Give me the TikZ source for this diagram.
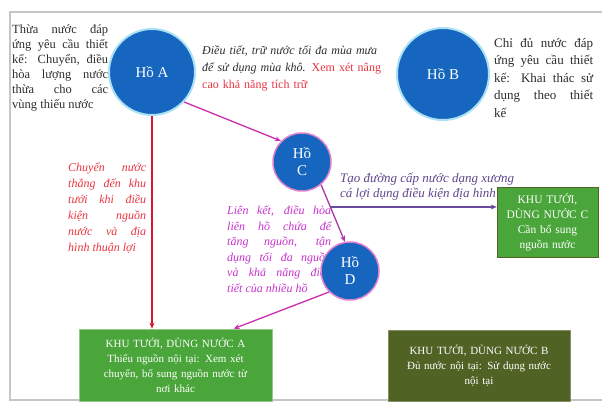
\documentclass[tikz,border=0pt]{standalone}
\usepackage{fontspec}
\setmainfont{Liberation Serif}
\usetikzlibrary{arrows.meta,calc}
\definecolor{lakeblue}{RGB}{22,102,192}
\definecolor{ringcyan}{RGB}{170,225,245}
\definecolor{gboxA}{RGB}{74,165,58}
\definecolor{gboxB}{RGB}{80,98,36}
\definecolor{redline}{RGB}{212,25,50}
\definecolor{magline}{RGB}{205,45,170}
\definecolor{purpline}{RGB}{105,75,160}
\definecolor{redtext}{RGB}{232,52,64}
\definecolor{magtext}{RGB}{200,50,205}
\definecolor{purptext}{RGB}{95,70,140}
\definecolor{darktext}{RGB}{45,45,45}
\tikzset{
  lake/.style={circle,fill=lakeblue,text=white,inner sep=0pt,font=\fontsize{15}{17}\selectfont,align=center},
  lakeAB/.style={lake,draw=ringcyan,line width=2pt},
  lakeCD/.style={lake,draw=magline!60,line width=1.5pt},
  zone/.style={rectangle,text=white,inner sep=3pt,align=center,font=\fontsize{11}{15}\selectfont,draw=gboxA!60!white,line width=0.6pt},
  note/.style={anchor=north west,inner sep=0pt,align=justify},
  arr/.style={line width=1.3pt,-{Stealth[length=6pt,width=5pt]}},
}
\begin{document}
\begin{tikzpicture}[x=1pt,y=-1pt]
\useasboundingbox (0,0) rectangle (602,403);
\fill[white] (0,0) rectangle (602,403);
\draw[gray!45,line width=1.2pt] (10,12) rectangle (604,400);

% texts
\node[note,text width=96pt,text=darktext,font=\fontsize{12.5}{15}\selectfont] (tA) at (12,25)
  {Thừa nước đáp\linebreak ứng yêu cầu thiết\linebreak kế: Chuyển, điều\linebreak hòa lượng nước\linebreak thừa cho các\linebreak vùng thiếu nước};
\node[note,text width=180pt,align=left,font=\fontsize{12}{17}\selectfont] (tAB) at (202,46)
  {{\itshape\color{darktext}Điều tiết, trữ nước tối đa mùa mưa để sử dụng mùa khô.} {\color{redtext}Xem xét nâng cao khả năng tích trữ}};
\node[note,text width=99pt,text=darktext,font=\fontsize{13}{17.5}\selectfont] (tB) at (494,38)
  {Chỉ đủ nước đáp\linebreak ứng yêu cầu thiết\linebreak kế: Khai thác sử\linebreak dụng theo thiết\linebreak kế};
\node[note,text width=78pt,text=redtext,font=\itshape\fontsize{12}{16}\selectfont] (tRed) at (68,163)
  {Chuyển nước\linebreak thẳng đến khu\linebreak tưới khi điều\linebreak kiện nguồn\linebreak nước và địa\linebreak hình thuận lợi};
\node[note,text width=104pt,text=magtext,font=\itshape\fontsize{12}{15.5}\selectfont] (tMag) at (227,206)
  {Liên kết, điều hòa\linebreak liên hồ chứa để\linebreak tăng nguồn, tận\linebreak dụng tối đa nguồn\linebreak và khả năng điều\linebreak tiết của nhiều hồ};
\node[note,align=left,text=purptext,font=\itshape\fontsize{13}{15}\selectfont] (tPur) at (340,173)
  {Tạo đường cấp nước dạng xương\\cá lợi dụng điều kiện địa hình};

% lakes
\node[lakeAB,minimum size=86pt] (hoA) at (152,72) {Hồ A};
\node[lakeAB,minimum size=92pt] (hoB) at (443,74) {Hồ B};
\node[lakeCD,minimum size=58pt] (hoC) at (302,162) {Hồ\\C};
\node[lakeCD,minimum size=58pt] (hoD) at (350,271) {Hồ\\D};

% zones
\node[zone,fill=gboxA,minimum width=193pt,minimum height=72pt,text width=186pt] (khuA) at (175.5,365)
  {KHU TƯỚI, DÙNG NƯỚC A\\Thiếu nguồn nội tại: Xem xét\\chuyển, bổ sung nguồn nước từ\\nơi khác};
\node[zone,fill=gboxB,draw=gboxB!70!white,minimum width=182pt,minimum height=71pt,text width=175pt] (khuB) at (479,365.5)
  {KHU TƯỚI, DÙNG NƯỚC B\\Đủ nước nội tại: Sử dụng nước\\nội tại};
\node[zone,fill=gboxA,draw=gboxB,minimum width=101pt,minimum height=70pt,text width=95pt,font=\fontsize{11.5}{15}\selectfont] (khuC) at (547.5,222)
  {KHU TƯỚI,\\DÙNG NƯỚC C\\Cần bổ sung\\nguồn nước};

% connectors
\draw[arr,redline] (hoA.south) -- (khuA.north -| hoA.south);
\draw[arr,magline] (hoA.-43) -- (hoC.135);
\draw[arr,magline!70!purpline] (hoC.-50) -- (hoD.100);
\coordinate (cd) at ($(hoC.-50)!0.39!(hoD.100)$);
\draw[arr,purpline] (cd) -- (cd -| khuC.west);
\coordinate (aIn) at ($(khuA.north west)!0.8!(khuA.north east)$);
\draw[arr,magline] (hoD.-135) -- (aIn);
\end{tikzpicture}
\end{document}
